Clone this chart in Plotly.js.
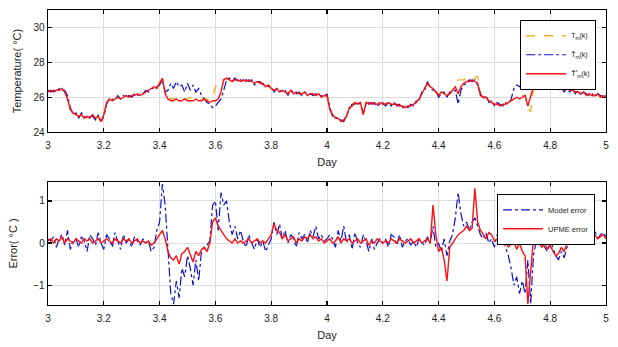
<!DOCTYPE html>
<html>
<head>
<meta charset="utf-8">
<script src="https://cdn.plot.ly/plotly-3.0.1.min.js"></script>
<style>html,body{margin:0;padding:0;background:#fff;}#chart{width:618px;height:347px;}</style>
</head>
<body>
<div id="chart"></div>
<script>
// Sampling grid (days)
const dayStart = 3.0;
const dayStep = 0.01;
const nSamples = 201;

// Measured temperature T_m(k)
const tempMeasured = [
  26.3, 26.4, 26.3, 26.4, 26.4, 26.5, 26.3,
  25.9, 25.3, 25.1, 25.0,
  24.9, 25.0, 24.8, 24.9, 24.8, 25.0, 24.8, 24.9, 24.6,
  25.0, 25.7, 25.9,
  25.8, 25.9, 26.0, 25.9, 26.0, 26.1, 26.0, 26.1,
  26.1, 26.2, 26.1, 26.2, 26.3, 26.4, 26.5, 26.6, 26.5, 26.9,
  27.2,
  26.1,
  25.9, 25.9, 25.9, 26.0, 25.9, 25.9, 25.9, 25.9, 26.0, 25.9, 25.9, 25.9, 25.9, 25.9, 25.9, 25.8, 26.0,
  26.6, 26.7, 27.0,
  27.0, 27.1, 27.0, 26.9, 27.0, 27.0, 26.9, 27.0,
  26.9, 27.0, 26.9, 26.8, 26.9, 26.8, 26.8, 26.6, 26.7, 26.5,
  26.4, 26.5, 26.3, 26.4, 26.3, 26.2, 26.4, 26.2, 26.3, 26.2,
  26.2, 26.3, 26.1, 26.2, 26.2, 26.1, 26.2, 26.0, 26.1, 26.1,
  25.3, 25.0, 24.8, 24.8, 24.6, 24.7, 24.9, 25.4, 25.5, 25.7,
  25.6, 25.7, 25.0, 25.7, 25.6, 25.7, 25.6, 25.6, 25.7, 25.6,
  25.6, 25.7, 25.6, 25.6, 25.6, 25.5, 25.5, 25.4, 25.5, 25.5,
  25.6, 25.7, 25.9, 26.2, 26.5, 26.8, 26.6, 26.5, 26.3, 26.1,
  26.3, 26.2, 26.1, 26.2, 26.4, 26.9, 27.0, 27.0, 27.0, 27.1,
  27.0, 27.1, 27.1, 27.2, 26.2, 26.0, 26.0, 25.8, 25.7, 25.6,
  25.6, 25.5, 25.6, 25.6, 25.7, 25.8, 25.9, 26.0, 26.0, 26.1,
  26.1, 25.3, 25.2, 26.4, 26.7, 26.6, 26.7, 26.8, 26.7, 26.8,
  26.7, 26.6, 26.5, 26.5, 26.4, 26.5, 26.4, 26.4, 26.3, 26.3,
  26.2, 26.3, 26.1, 26.2, 26.1, 26.1, 26.2, 26.0, 26.1, 26.0
];

// Model prediction
const tempModel = [
  26.4, 26.3, 26.4, 26.3, 26.5, 26.4, 26.4,
  26.1, 25.4, 25.0, 25.1,
  24.8, 25.1, 24.9, 24.8, 24.9, 24.9, 24.7, 25.0, 24.6,
  24.9, 25.6, 25.9,
  25.9, 25.8, 26.1, 25.9, 26.1, 26.0, 26.1, 26.0,
  26.2, 26.1, 26.2, 26.2, 26.4, 26.3, 26.5, 26.5, 26.6, 26.7,
  27.0,
  26.3,
  26.4, 26.8, 26.5, 26.9, 26.6, 26.7, 26.3, 26.8, 26.4, 26.7, 26.3, 26.5, 26.1, 25.9, 25.7, 25.6, 25.4,
  25.5, 25.7, 25.9,
  26.4, 27.0, 27.1, 26.9, 27.1, 26.9, 27.0, 26.9,
  27.0, 26.9, 27.0, 26.7, 26.9, 26.9, 26.7, 26.7, 26.6, 26.6,
  26.3, 26.5, 26.4, 26.3, 26.4, 26.1, 26.4, 26.3, 26.2, 26.3,
  26.1, 26.3, 26.2, 26.2, 26.1, 26.2, 26.1, 26.1, 26.0, 26.2,
  25.4, 24.9, 24.9, 24.7, 24.7, 24.6, 25.0, 25.3, 25.6, 25.6,
  25.7, 25.6, 25.1, 25.6, 25.7, 25.6, 25.7, 25.5, 25.6, 25.7,
  25.5, 25.7, 25.5, 25.7, 25.5, 25.6, 25.4, 25.5, 25.4, 25.6,
  25.5, 25.8, 25.8, 26.3, 26.4, 26.9, 26.5, 26.4, 26.4, 26.0,
  26.2, 26.3, 26.0, 26.3, 26.3, 26.4, 25.6, 26.4, 26.7, 26.8,
  27.0, 26.9, 27.0, 26.7, 26.2, 25.9, 26.1, 25.7, 25.8, 25.5,
  25.7, 25.6, 25.5, 25.7, 25.6, 25.9, 26.5, 26.7, 26.6, 26.8,
  26.7, 26.6, 26.5, 26.7, 26.6, 26.7, 26.6, 26.9, 26.6, 26.9,
  26.6, 26.7, 26.4, 26.6, 26.3, 26.5, 26.3, 26.5, 26.2, 26.4,
  26.1, 26.3, 26.2, 26.1, 26.2, 26.0, 26.2, 26.1, 26.0, 26.1
];

// Corrected estimate
const tempCorrected = [
  26.3, 26.4, 26.3, 26.4, 26.4, 26.5, 26.3,
  25.9, 25.3, 25.1, 25.0,
  24.9, 25.0, 24.8, 24.9, 24.8, 25.0, 24.8, 24.9, 24.6,
  25.0, 25.7, 25.9,
  25.8, 25.9, 26.0, 25.9, 26.0, 26.1, 26.0, 26.1,
  26.1, 26.2, 26.1, 26.2, 26.3, 26.4, 26.5, 26.6, 26.5, 26.8,
  27.1,
  26.2,
  25.9, 25.8, 25.8, 25.9, 25.8, 25.8, 25.9, 25.8, 25.8, 25.8, 25.9, 25.8, 25.8, 25.9, 25.8, 25.7, 25.8,
  25.8, 25.9, 26.3,
  27.0, 27.1, 27.0, 26.9, 27.0, 27.0, 26.9, 27.0,
  26.9, 27.0, 26.9, 26.8, 26.9, 26.8, 26.8, 26.6, 26.7, 26.5,
  26.4, 26.5, 26.3, 26.4, 26.3, 26.2, 26.4, 26.2, 26.3, 26.2,
  26.2, 26.3, 26.1, 26.2, 26.2, 26.1, 26.2, 26.0, 26.1, 26.1,
  25.3, 25.0, 24.8, 24.8, 24.6, 24.7, 24.9, 25.4, 25.5, 25.7,
  25.6, 25.7, 25.0, 25.7, 25.6, 25.7, 25.6, 25.6, 25.7, 25.6,
  25.6, 25.7, 25.6, 25.6, 25.6, 25.5, 25.5, 25.4, 25.5, 25.5,
  25.6, 25.7, 25.9, 26.2, 26.5, 26.8, 26.6, 26.5, 26.3, 26.1,
  26.3, 26.2, 26.1, 26.2, 26.4, 26.6, 26.2, 26.6, 26.8, 26.9,
  26.9, 27.0, 26.9, 26.8, 26.1, 26.0, 26.0, 25.8, 25.7, 25.6,
  25.6, 25.5, 25.6, 25.6, 25.7, 25.8, 25.9, 26.0, 25.9, 26.0,
  26.1, 25.5, 26.0, 26.6, 26.7, 26.6, 26.7, 26.8, 26.7, 26.8,
  26.7, 26.6, 26.5, 26.5, 26.4, 26.5, 26.4, 26.4, 26.3, 26.3,
  26.2, 26.3, 26.1, 26.2, 26.1, 26.1, 26.2, 26.0, 26.1, 26.0
];

// Model error
const errorModel = [
  0.1, 0.05, 0.15, -0.1, 0.1, 0.2, -0.05, 0.3, -0.15, 0.05, 0.1,
  -0.1, 0.15, 0.05, -0.2, 0.2, 0.1, -0.05, 0.25, 0.0, -0.15,
  0.2, 0.1, -0.1, 0.25, 0.05, -0.15, 0.2, 0.0, 0.1, -0.1,
  0.15, 0.05, -0.05, 0.1, 0.0, 0.05, -0.2, -0.1, 0.3, 0.5,
  1.4, 0.9, -0.3, -1.2, -1.45, -0.9, -1.3, -0.6, -0.8, -0.3,
  -0.6, -1.0, -0.4, -0.9, -0.2, -0.1, -0.05, 0.05, 0.9, 1.0,
  0.3, 1.2, 0.9, 1.0, 0.5, 0.2, 0.4, 0.1, 0.3, 0.05,
  -0.1, 0.2, 0.0, -0.15, 0.1, -0.1, 0.05, -0.2, -0.05, 0.1,
  0.5, 0.2, 0.45, 0.1, 0.3, 0.0, 0.2, 0.1, -0.1, 0.25,
  0.1, 0.2, 0.0, 0.3, 0.15, 0.4, 0.1, 0.2, 0.05, 0.1,
  0.2, 0.1, -0.1, 0.3, 0.05, 0.4, 0.0, 0.2, -0.15, 0.25,
  0.0, -0.1, 0.2, 0.05, -0.2, 0.1, -0.15, 0.0, 0.1, 0.0,
  0.1, -0.1, 0.2, 0.15, -0.05, 0.2, -0.1, 0.05, 0.1, -0.05,
  0.05, -0.1, 0.1, 0.0, -0.05, 0.15, 0.0, 0.4, -0.1, 0.0,
  -0.2, 0.1, -0.3, 0.05, 0.2, 0.6, 1.2, 0.7, 0.4, 0.5,
  0.3, 0.5, 0.6, 0.4, 0.2, 0.1, 0.25, 0.0, 0.1, -0.1,
  0.2, 0.0, 0.15, -0.1, -0.3, -0.6, -1.0, -0.8, -1.2, -0.9,
  -1.2, -0.4, -1.45, -0.3, 0.05, 0.1, 0.0, -0.1, -0.2, 0.05,
  -0.1, -0.3, -0.4, -0.2, -0.35, -0.1, -0.05, 0.0, 0.1, 0.2,
  0.1, 0.25, 0.15, 0.05, 0.2, 0.3, 0.1, 0.2, 0.25, 0.15
];

// UPME error
const errorUPME = [
  0.05, 0.1, 0.0, 0.1, 0.05, 0.15, 0.0, 0.1, 0.05, 0.0, 0.1,
  0.05, 0.0, 0.1, 0.05, 0.1, 0.0, 0.05, 0.1, 0.0, 0.05,
  0.1, 0.05, 0.0, 0.1, 0.05, 0.0, 0.1, 0.05, 0.1, 0.0,
  0.05, 0.1, 0.0, 0.05, 0.0, 0.05, -0.05, 0.0, 0.1, 0.2,
  0.3, 0.1, -0.2, -0.35, -0.4, -0.3, -0.5, -0.25, -0.2, -0.1,
  -0.3, -0.45, -0.2, -0.3, -0.15, -0.1, -0.2, 0.0, 0.5, 0.6,
  0.4, 0.3, 0.2, 0.1, 0.05, 0.0, 0.1, 0.0, 0.05, 0.0,
  0.05, 0.1, 0.0, 0.05, 0.1, 0.0, 0.05, 0.0, 0.1, 0.2,
  0.45, 0.3, 0.25, 0.1, 0.2, 0.05, 0.1, 0.15, 0.0, 0.1,
  0.05, 0.15, 0.1, 0.2, 0.1, 0.15, 0.05, 0.1, 0.0, 0.05,
  0.1, 0.0, 0.05, 0.15, 0.0, 0.1, 0.05, 0.1, 0.0, 0.05,
  0.1, 0.0, 0.05, 0.1, -0.05, 0.05, 0.0, 0.1, 0.05, 0.0,
  0.05, 0.0, 0.1, 0.05, 0.0, 0.1, 0.05, 0.0, 0.05, 0.1,
  0.0, 0.05, 0.1, 0.0, 0.05, 0.1, 0.0, 0.9, 0.2, -0.2,
  -0.1, -0.4, -0.9, -0.1, 0.0, 0.1, 0.2, 0.25, 0.3, 0.4,
  0.3, 0.35, 1.3, 0.5, 0.3, 0.2, 0.1, 0.25, 0.2, 0.05,
  0.1, 0.0, 0.2, 0.05, -0.1, 0.0, 0.05, -0.15, 0.0, -0.2,
  -0.3, -1.45, -0.6, 0.1, 0.2, 0.0, -0.1, 0.0, -0.15, -0.05,
  -0.2, -0.3, -0.25, -0.1, -0.2, 0.0, 0.05, 0.1, 0.05, 0.15,
  0.1, 0.2, 0.1, 0.05, 0.15, 0.2, 0.1, 0.15, 0.2, 0.1
];

const xTickVals = [3, 3.2, 3.4, 3.6, 3.8, 4, 4.2, 4.4, 4.6, 4.8, 5];
const xTickText = ['3', '3.2', '3.4', '3.6', '3.8', '4', '4.2', '4.4', '4.6', '4.8', '5'];
const tempTicks = [24, 26, 28, 30];
const errTicks = [-1, 0, 1];
const seriesNames = ['T<sub>m</sub>(k)', 'T&#770;<sub>m</sub>(k)', 'T&#771;<sup>*</sup><sub>m</sub>(k)'];
const errNames = ['Model error', 'UPME error'];

const days = [];
for (let i = 0; i < nSamples; i++) days.push(+(dayStart + i * dayStep).toFixed(2));

const cOrange = '#EDB120', cBlue = '#1010c8', cRed = '#ff1010';

const traces = [
  {x: days, y: tempMeasured, name: seriesNames[0], type: 'scatter', mode: 'lines',
   line: {color: cOrange, width: 1.3, dash: 'dash'}, xaxis: 'x', yaxis: 'y', legend: 'legend'},
  {x: days, y: tempModel, name: seriesNames[1], type: 'scatter', mode: 'lines',
   line: {color: cBlue, width: 1.2, dash: 'dashdot'}, xaxis: 'x', yaxis: 'y', legend: 'legend'},
  {x: days, y: tempCorrected, name: seriesNames[2], type: 'scatter', mode: 'lines',
   line: {color: cRed, width: 1.4}, xaxis: 'x', yaxis: 'y', legend: 'legend'},
  {x: days, y: errorModel, name: errNames[0], type: 'scatter', mode: 'lines',
   line: {color: cBlue, width: 1.2, dash: 'dashdot'}, xaxis: 'x2', yaxis: 'y2', legend: 'legend2'},
  {x: days, y: errorUPME, name: errNames[1], type: 'scatter', mode: 'lines',
   line: {color: cRed, width: 1.4}, xaxis: 'x2', yaxis: 'y2', legend: 'legend2'}
];

const ff = 'Liberation Sans, Arial, sans-serif';
const axisBase = {
  showline: true, linecolor: '#000', linewidth: 1.3, mirror: 'ticks',
  ticks: 'inside', ticklen: 4, tickcolor: '#000', tickwidth: 1.2,
  showgrid: true, gridcolor: '#dcdcdc', gridwidth: 1, zeroline: false,
  tickfont: {family: ff, size: 10, color: '#222'}
};
const xBase = Object.assign({}, axisBase, {range: [3, 5], tickvals: xTickVals, ticktext: xTickText, ticklabelstandoff: 4});
const titleFont = {family: ff, size: 11, color: '#222'};

const layout = {
  width: 618, height: 347,
  margin: {l: 48, r: 12, t: 10, b: 42},
  paper_bgcolor: '#fff', plot_bgcolor: '#fff',
  font: {family: ff, size: 10, color: '#222'},
  showlegend: true,
  xaxis: Object.assign({}, xBase, {domain: [0, 1], anchor: 'y', title: {text: 'Day', font: titleFont, standoff: 8}}),
  yaxis: Object.assign({}, axisBase, {domain: [0.586, 1], range: [24, 31], tickvals: tempTicks,
    anchor: 'x', title: {text: 'Temperature( °C)', font: titleFont, standoff: 9}}),
  xaxis2: Object.assign({}, xBase, {domain: [0, 1], anchor: 'y2', title: {text: 'Day', font: titleFont, standoff: 8}}),
  yaxis2: Object.assign({}, axisBase, {domain: [0, 0.417], range: [-1.47, 1.45], tickvals: errTicks,
    anchor: 'x2', title: {text: 'Error( °C )', font: titleFont, standoff: 13}}),
  legend: {x: 0.982, y: 0.966, xanchor: 'right', yanchor: 'top', bgcolor: '#fff',
    bordercolor: '#000', borderwidth: 1.2, font: {family: ff, size: 7, color: '#222'}, itemwidth: 40, tracegroupgap: 0},
  legend2: {x: 0.98, y: 0.376, xanchor: 'right', yanchor: 'top', bgcolor: '#fff',
    bordercolor: '#000', borderwidth: 1.2, font: {family: ff, size: 7.5, color: '#222'}, itemwidth: 40, tracegroupgap: 0}
};

Plotly.newPlot('chart', traces, layout, {displayModeBar: false, staticPlot: true});
</script>
</body>
</html>
